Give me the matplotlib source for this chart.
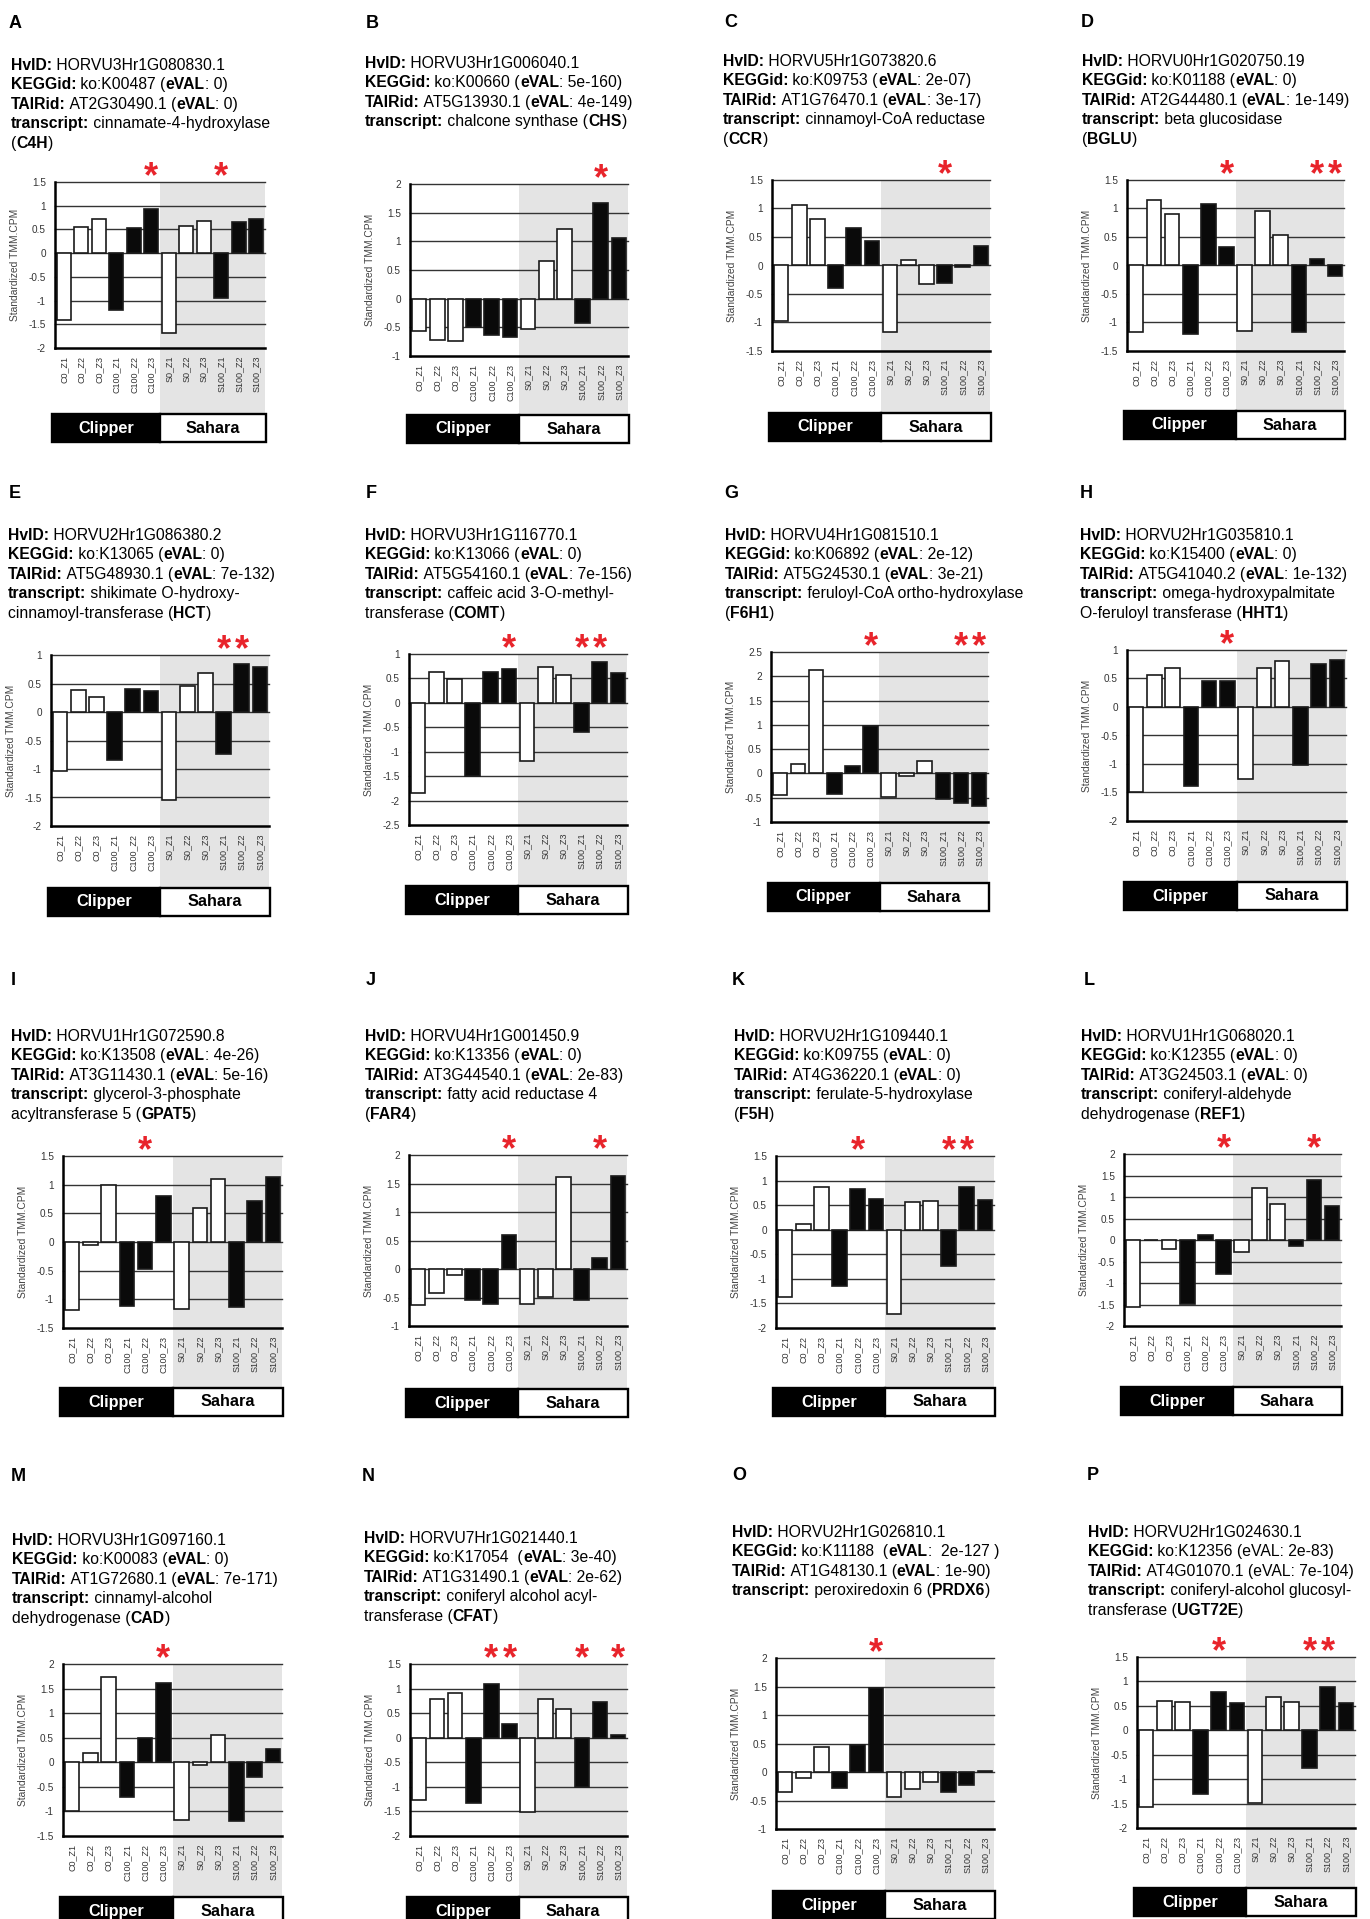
"""Standardized TMM.CPM expression of 16 barley genes, Clipper vs Sahara."""

import numpy as np
import matplotlib
matplotlib.use('Agg')
import matplotlib.pyplot as plt
import matplotlib.transforms as mtransforms
from matplotlib.patches import Rectangle

plt.rcParams['font.family'] = ['Liberation Sans', 'DejaVu Sans']

W, H = 1370, 1919

samples = ['C0_Z1', 'C0_Z2', 'C0_Z3', 'C100_Z1', 'C100_Z2', 'C100_Z3',
           'S0_Z1', 'S0_Z2', 'S0_Z3', 'S100_Z1', 'S100_Z2', 'S100_Z3']
letters = list('ABCDEFGHIJKLMNOP')

vals_a = [-1.4, 0.55, 0.72, -1.2, 0.52, 0.93, -1.68, 0.57, 0.67, -0.95, 0.65, 0.71]
vals_b = [-0.56, -0.72, -0.73, -0.49, -0.63, -0.67, -0.53, 0.66, 1.21, -0.42, 1.67, 1.05]
vals_c = [-0.98, 1.06, 0.82, -0.4, 0.65, 0.43, -1.17, 0.09, -0.33, -0.3, -0.03, 0.34]
vals_d = [-1.17, 1.15, 0.9, -1.2, 1.08, 0.33, -1.15, 0.95, 0.53, -1.16, 0.12, -0.19]
vals_e = [-1.03, 0.38, 0.26, -0.85, 0.4, 0.36, -1.55, 0.46, 0.69, -0.73, 0.84, 0.79]
vals_f = [-1.85, 0.63, 0.48, -1.5, 0.63, 0.69, -1.2, 0.74, 0.56, -0.6, 0.84, 0.61]
vals_g = [-0.45, 0.2, 2.13, -0.43, 0.15, 0.97, -0.48, -0.05, 0.25, -0.52, -0.6, -0.67]
vals_h = [-1.5, 0.57, 0.69, -1.38, 0.45, 0.45, -1.27, 0.69, 0.8, -1.02, 0.76, 0.83]
vals_i = [-1.18, -0.06, 1.0, -1.12, -0.47, 0.8, -1.17, 0.6, 1.1, -1.14, 0.72, 1.14]
vals_j = [-0.64, -0.42, -0.11, -0.55, -0.62, 0.6, -0.62, -0.49, 1.62, -0.55, 0.19, 1.63]
vals_k = [-1.36, 0.12, 0.87, -1.14, 0.83, 0.62, -1.72, 0.57, 0.59, -0.74, 0.86, 0.6]
vals_l = [-1.55, 0.0, -0.2, -1.48, 0.12, -0.78, -0.27, 1.2, 0.84, -0.14, 1.4, 0.8]
vals_m = [-1.0, 0.18, 1.74, -0.7, 0.5, 1.62, -1.18, -0.06, 0.55, -1.2, -0.3, 0.27]
vals_n = [-1.26, 0.78, 0.91, -1.33, 1.09, 0.27, -1.52, 0.79, 0.58, -1.0, 0.72, 0.06]
vals_o = [-0.35, -0.1, 0.43, -0.28, 0.48, 1.47, -0.43, -0.3, -0.18, -0.35, -0.23, 0.02]
vals_p = [-1.58, 0.6, 0.57, -1.3, 0.78, 0.55, -1.49, 0.68, 0.57, -0.78, 0.89, 0.55]
all_vals = [vals_a, vals_b, vals_c, vals_d, vals_e, vals_f, vals_g, vals_h,
            vals_i, vals_j, vals_k, vals_l, vals_m, vals_n, vals_o, vals_p]

y_ranges = [(-2, 1.5), (-1, 2), (-1.5, 1.5), (-1.5, 1.5),
            (-2, 1), (-2.5, 1), (-1, 2.5), (-2, 1),
            (-1.5, 1.5), (-1, 2), (-2, 1.5), (-2, 2),
            (-1.5, 2), (-2, 1.5), (-1, 2), (-2, 1.5)]

# columns marked with a red asterisk
stars = [[5, 9], [10], [9], [5, 10, 11],
         [9, 10], [5, 9, 10], [5, 10, 11], [5],
         [4], [5, 10], [4, 9, 10], [5, 10],
         [5], [4, 5, 9, 11], [5], [4, 9, 10]]

# ** toggles bold
infos = [
    ["**HvID:** HORVU3Hr1G080830.1", "**KEGGid:** ko:K00487 (**eVAL**: 0)",
     "**TAIRid:** AT2G30490.1 (**eVAL**: 0)", "**transcript:** cinnamate-4-hydroxylase", "(**C4H**)"],
    ["**HvID:** HORVU3Hr1G006040.1", "**KEGGid:** ko:K00660 (**eVAL**: 5e-160)",
     "**TAIRid:** AT5G13930.1 (**eVAL**: 4e-149)", "**transcript:** chalcone synthase (**CHS**)"],
    ["**HvID:** HORVU5Hr1G073820.6", "**KEGGid:** ko:K09753 (**eVAL**: 2e-07)",
     "**TAIRid:** AT1G76470.1 (**eVAL**: 3e-17)", "**transcript:** cinnamoyl-CoA reductase", "(**CCR**)"],
    ["**HvID:** HORVU0Hr1G020750.19", "**KEGGid:** ko:K01188 (**eVAL**: 0)",
     "**TAIRid:** AT2G44480.1 (**eVAL**: 1e-149)", "**transcript:** beta glucosidase", "(**BGLU**)"],
    ["**HvID:** HORVU2Hr1G086380.2", "**KEGGid:** ko:K13065 (**eVAL**: 0)",
     "**TAIRid:** AT5G48930.1 (**eVAL**: 7e-132)", "**transcript:** shikimate O-hydroxy-",
     "cinnamoyl-transferase (**HCT**)"],
    ["**HvID:** HORVU3Hr1G116770.1", "**KEGGid:** ko:K13066 (**eVAL**: 0)",
     "**TAIRid:** AT5G54160.1 (**eVAL**: 7e-156)", "**transcript:** caffeic acid 3-O-methyl-",
     "transferase (**COMT**)"],
    ["**HvID:** HORVU4Hr1G081510.1", "**KEGGid:** ko:K06892 (**eVAL**: 2e-12)",
     "**TAIRid:** AT5G24530.1 (**eVAL**: 3e-21)", "**transcript:** feruloyl-CoA ortho-hydroxylase",
     "(**F6H1**)"],
    ["**HvID:** HORVU2Hr1G035810.1", "**KEGGid:** ko:K15400 (**eVAL**: 0)",
     "**TAIRid:** AT5G41040.2 (**eVAL**: 1e-132)", "**transcript:** omega-hydroxypalmitate",
     "O-feruloyl transferase (**HHT1**)"],
    ["**HvID:** HORVU1Hr1G072590.8", "**KEGGid:** ko:K13508 (**eVAL**: 4e-26)",
     "**TAIRid:** AT3G11430.1 (**eVAL**: 5e-16)", "**transcript:** glycerol-3-phosphate",
     "acyltransferase 5 (**GPAT5**)"],
    ["**HvID:** HORVU4Hr1G001450.9", "**KEGGid:** ko:K13356 (**eVAL**: 0)",
     "**TAIRid:** AT3G44540.1 (**eVAL**: 2e-83)", "**transcript:** fatty acid reductase 4",
     "(**FAR4**)"],
    ["**HvID:** HORVU2Hr1G109440.1", "**KEGGid:** ko:K09755 (**eVAL**: 0)",
     "**TAIRid:** AT4G36220.1 (**eVAL**: 0)", "**transcript:** ferulate-5-hydroxylase",
     "(**F5H**)"],
    ["**HvID:** HORVU1Hr1G068020.1", "**KEGGid:** ko:K12355 (**eVAL**: 0)",
     "**TAIRid:** AT3G24503.1 (**eVAL**: 0)", "**transcript:** coniferyl-aldehyde",
     "dehydrogenase (**REF1**)"],
    ["**HvID:** HORVU3Hr1G097160.1", "**KEGGid:** ko:K00083 (**eVAL**: 0)",
     "**TAIRid:** AT1G72680.1 (**eVAL**: 7e-171)", "**transcript:** cinnamyl-alcohol",
     "dehydrogenase (**CAD**)"],
    ["**HvID:** HORVU7Hr1G021440.1", "**KEGGid:** ko:K17054  (**eVAL**: 3e-40)",
     "**TAIRid:** AT1G31490.1 (**eVAL**: 2e-62)", "**transcript:** coniferyl alcohol acyl-",
     "transferase (**CFAT**)"],
    ["**HvID:** HORVU2Hr1G026810.1", "**KEGGid:** ko:K11188  (**eVAL**:  2e-127 )",
     "**TAIRid:** AT1G48130.1 (**eVAL**: 1e-90)", "**transcript:** peroxiredoxin 6 (**PRDX6**)"],
    ["**HvID:** HORVU2Hr1G024630.1", "**KEGGid:** ko:K12356 (eVAL: 2e-83)",
     "**TAIRid:** AT4G01070.1 (eVAL: 7e-104)", "**transcript:** coniferyl-alcohol glucosyl-",
     "transferase (**UGT72E**)"],
]

# pixel layout: letter x/y, text x/y (first baseline), axes left/top/right/bottom, box top
layout = [
    (9, 28, 11, 70, 55, 182, 265, 348, 413),
    (366, 28, 365, 68, 410, 184, 628, 356, 414),
    (724, 27, 723, 66, 772, 180, 990, 351, 412),
    (1081, 27, 1082, 66, 1127, 180, 1344, 351, 410),
    (9, 498, 8, 540, 51, 655, 269, 826, 887),
    (366, 498, 365, 540, 409, 654, 627, 825, 885),
    (724, 498, 725, 540, 771, 652, 988, 822, 882),
    (1080, 498, 1080, 540, 1127, 650, 1346, 821, 881),
    (11, 985, 11, 1041, 63, 1156, 282, 1328, 1387),
    (366, 985, 365, 1041, 409, 1155, 627, 1326, 1388),
    (732, 985, 734, 1041, 776, 1156, 994, 1328, 1387),
    (1084, 985, 1081, 1041, 1124, 1154, 1341, 1326, 1386),
    (11, 1481, 12, 1545, 63, 1664, 282, 1836, 1896),
    (362, 1481, 364, 1543, 410, 1664, 627, 1836, 1896),
    (732, 1480, 732, 1537, 776, 1658, 994, 1829, 1890),
    (1087, 1480, 1088, 1537, 1137, 1657, 1355, 1828, 1887),
]

fig = plt.figure(figsize=(W / 100, H / 100), dpi=100)
bg = fig.add_axes([0, 0, 1, 1])
bg.set_xlim(0, W)
bg.set_ylim(H, 0)
bg.axis('off')


def rich_line(x, y, line, size=11.3):
    parts = line.split('**')
    prev = None
    for k, seg in enumerate(parts):
        if not seg:
            continue
        weight = 'bold' if k % 2 == 1 else 'normal'
        if prev is None:
            prev = bg.text(x, y, seg, fontsize=size, fontweight=weight,
                           va='baseline', ha='left')
        else:
            prev = bg.annotate(seg, xy=(1, 0), xycoords=prev, fontsize=size,
                               fontweight=weight, va='bottom', ha='left')


x = np.arange(len(samples))
colors = ['white'] * 3 + ['#0a0a0a'] * 3 + ['white'] * 3 + ['#0a0a0a'] * 3

for idx, letter in enumerate(letters):
    lx, ly, tx, ty, l, t, r, b, box_top = layout[idx]
    ymin, ymax = y_ranges[idx]

    bg.text(lx, ly, letter, fontsize=13, fontweight='bold', va='baseline', ha='left')
    for j, line in enumerate(infos[idx]):
        rich_line(tx, ty + j * 19.4, line)

    ax = fig.add_axes([l / W, 1 - b / H, (r - l) / W, (b - t) / H])
    ax.set_xlim(-0.5, 11.5)
    ax.set_ylim(ymin, ymax)
    trans = mtransforms.blended_transform_factory(ax.transData, ax.transAxes)

    ybot = -(box_top - b) / (b - t)
    ax.add_patch(Rectangle((5.5, ybot), 6, 1 - ybot, transform=trans,
                           facecolor='#e4e4e4', edgecolor='none', clip_on=False, zorder=0))

    for yv in np.arange(ymin + 0.5, ymax + 0.01, 0.5):
        ax.axhline(yv, color='#333333', lw=1.0, zorder=1, clip_on=False)

    ax.bar(x, all_vals[idx], width=0.8, color=colors, edgecolor='#1a1a1a',
           linewidth=1.2, zorder=2)

    for side in ['top', 'right']:
        ax.spines[side].set_visible(False)
    for side in ['left', 'bottom']:
        ax.spines[side].set_linewidth(1.8)
        ax.spines[side].set_color('black')
        ax.spines[side].set_zorder(3)

    ticks = np.arange(ymin, ymax + 0.01, 0.5)
    ax.set_yticks(ticks, ['{:g}'.format(v) for v in ticks])
    ax.set_xticks(x, samples, rotation=90)
    ax.tick_params(axis='y', length=0, pad=6.5, labelsize=7.2, labelcolor='#333333')
    ax.tick_params(axis='x', length=0, pad=5.5, labelsize=6.5, labelcolor='#333333')
    ax.set_facecolor('white')

    ax.text(-40 / (r - l), 0.5, 'Standardized TMM.CPM', rotation=90, transform=ax.transAxes,
            ha='center', va='center', fontsize=7.4, color='#444444')

    for c in stars[idx]:
        ax.annotate('*', xy=(c, 1), xycoords=trans, xytext=(0, -4), textcoords='offset points',
                    ha='center', va='baseline', fontsize=26, fontweight='bold',
                    color='#e8242b', annotation_clip=False)

    # Clipper / Sahara bar
    pw = r - l
    ph = b - t
    bx0 = -3 / pw
    bx1 = 1 + 1 / pw
    by0 = -(box_top + 29 - b) / ph
    bh = 28 / ph
    ax.add_patch(Rectangle((bx0, by0), 0.5 - bx0, bh, transform=ax.transAxes,
                           facecolor='black', edgecolor='black', lw=1.7, clip_on=False, zorder=4))
    ax.add_patch(Rectangle((0.5, by0), bx1 - 0.5, bh, transform=ax.transAxes,
                           facecolor='white', edgecolor='black', lw=1.7, clip_on=False, zorder=4))
    ax.text((bx0 + 0.5) / 2, by0 + bh / 2, 'Clipper', transform=ax.transAxes,
            ha='center', va='center', fontsize=11.7, fontweight='bold', color='white', zorder=5)
    ax.text((0.5 + bx1) / 2, by0 + bh / 2, 'Sahara', transform=ax.transAxes,
            ha='center', va='center', fontsize=11.7, fontweight='bold', color='black', zorder=5)

fig.savefig('out.png', dpi=100)
